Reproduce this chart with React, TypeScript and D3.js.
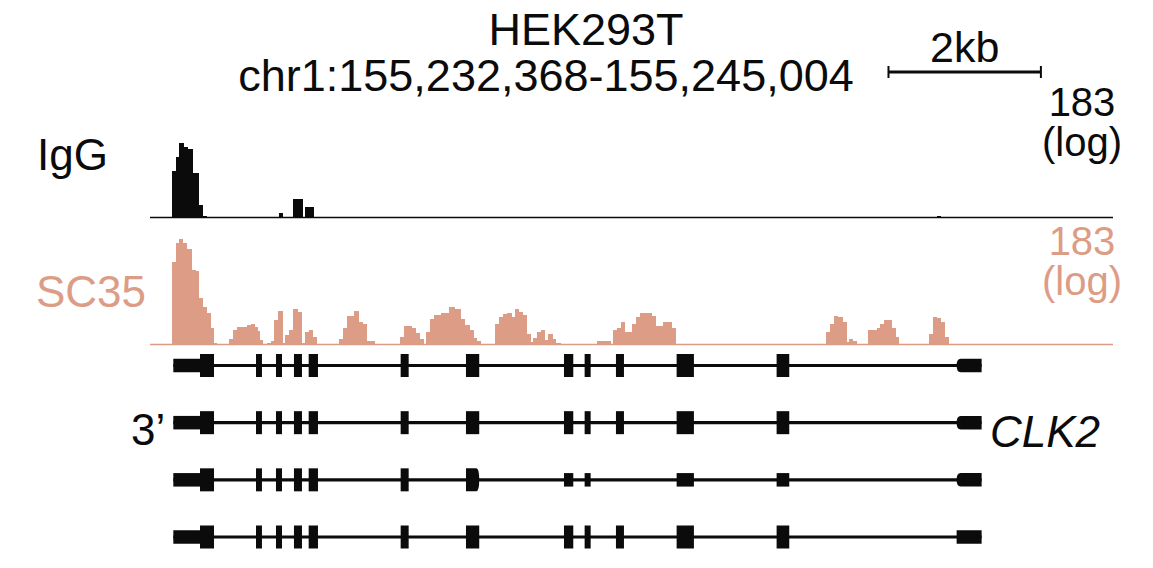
import React from "react";
import * as d3 from "d3";

// ---------------- data ----------------
const REGION_CHR = "chr1";
const REGION_START = 155232368;
const REGION_END = 155245004;
const TITLE = "HEK293T";
const SCALE_BAR_BP = 2000;
const SCALE_BAR_START = 9690; // bp offset from region start
const TRACK_MAX = 183;

// IgG signal: [start offset bp, end offset bp, value]
const igg: [number, number, number][] = [
  [289, 341, 10.6],
  [341, 384, 23],
  [384, 446, 48],
  [446, 499, 40],
  [499, 560, 35],
  [560, 647, 9.5],
  [647, 699, 0.9],
  [699, 752, 0.1],
  [1689, 1749, 0.25],
  [1880, 2003, 1.7],
  [2030, 2152, 0.76],
  [10322, 10374, 0.08],
];

// SC35 signal: [start offset bp, end offset bp, value]
const sc35: [number, number, number][] = [
  [289, 341, 48], [341, 384, 120], [384, 437, 146], [437, 488, 124], [488, 551, 90],
  [551, 604, 33], [604, 647, 31], [647, 699, 8], [699, 752, 4.8], [752, 796, 3.4],
  [796, 840, 1.2], [840, 883, 0.06],
  [1033, 1085, 0.3], [1085, 1138, 1.0], [1138, 1207, 1.3], [1207, 1269, 1.25],
  [1269, 1321, 1.5], [1321, 1374, 1.6], [1374, 1417, 1.3], [1417, 1443, 0.9], [1443, 1486, 0.24],
  [1539, 1584, 0.06], [1584, 1627, 0.2], [1627, 1679, 2.2], [1679, 1749, 3.9], [1749, 1775, 0.07],
  [1775, 1828, 0.57], [1828, 1880, 1.0], [1880, 1942, 4.4], [1942, 1994, 3.7], [1994, 2030, 0.07],
  [2030, 2082, 0.83], [2082, 2143, 1.0], [2143, 2195, 0.45],
  [2476, 2528, 0.3], [2528, 2581, 1.2], [2581, 2676, 2.9], [2676, 2746, 3.9], [2746, 2799, 1.95],
  [2799, 2843, 1.6], [2843, 2948, 0.2],
  [3280, 3332, 0.45], [3332, 3437, 1.4], [3437, 3490, 1.2], [3490, 3542, 0.75], [3542, 3595, 0.3],
  [3621, 3674, 0.8], [3674, 3726, 2.35], [3726, 3822, 3.05], [3822, 3927, 3.5], [3927, 3998, 5.0],
  [3998, 4084, 4.3], [4084, 4137, 2.3], [4137, 4198, 1.5], [4198, 4251, 1.0], [4251, 4294, 0.34],
  [4294, 4339, 0.18],
  [4526, 4579, 1.6], [4579, 4627, 2.7], [4627, 4680, 3.2], [4680, 4746, 3.4], [4746, 4789, 2.6],
  [4789, 4845, 4.4], [4845, 4890, 3.6], [4890, 4942, 3.05], [4942, 4995, 0.62], [4995, 5029, 0.1],
  [5029, 5074, 0.34], [5074, 5126, 0.83], [5126, 5186, 0.96], [5186, 5222, 0.24], [5222, 5283, 0.62],
  [5283, 5327, 0.28], [5327, 5388, 0.09],
  [5869, 6044, 0.2], [6071, 6123, 0.96], [6123, 6176, 1.2], [6176, 6236, 1.9], [6236, 6320, 0.8],
  [6320, 6376, 1.6], [6376, 6429, 2.6], [6429, 6586, 3.4], [6586, 6639, 2.9], [6639, 6726, 1.4],
  [6726, 6845, 1.9], [6845, 6901, 1.2],
  [8869, 8922, 0.8], [8922, 8974, 1.6], [8974, 9031, 2.9], [9031, 9088, 2.6], [9088, 9141, 1.95],
  [9141, 9175, 0.14], [9175, 9227, 0.3], [9227, 9280, 0.18],
  [9424, 9534, 1.0], [9534, 9578, 1.2], [9578, 9630, 1.6], [9630, 9731, 2.2], [9731, 9788, 1.2],
  [9788, 9831, 0.45],
  [10224, 10277, 0.62], [10277, 10330, 2.6], [10330, 10382, 2.5], [10382, 10427, 1.95], [10427, 10487, 0.45],
];

// CLK2 exons (bp offsets from region start)
const exons: [number, number][] = [
  [306, 656],
  [656, 840],
  [1391, 1469],
  [1653, 1732],
  [1889, 1994],
  [2082, 2204],
  [3289, 3394],
  [4146, 4320],
  [5432, 5554],
  [5703, 5782],
  [6114, 6219],
  [6910, 7137],
  [8222, 8388],
  [10584, 10912],
];

// transcripts: list of [exon index, kind] where kind: "c" coding (thick), "u" UTR (thin)
const transcripts: { parts: [number, string][]; roundEnd: boolean; roundIdx?: number }[] = [
  { parts: [[0, "u"], [1, "c"], [2, "c"], [3, "c"], [4, "c"], [5, "c"], [6, "c"], [7, "c"], [8, "c"], [9, "c"], [10, "c"], [11, "c"], [12, "c"], [13, "u"]], roundEnd: true },
  { parts: [[0, "u"], [1, "c"], [2, "c"], [3, "c"], [4, "c"], [5, "c"], [6, "c"], [7, "c"], [8, "c"], [9, "c"], [10, "c"], [11, "c"], [12, "c"], [13, "u"]], roundEnd: true },
  { parts: [[0, "u"], [1, "c"], [2, "c"], [3, "c"], [4, "c"], [5, "c"], [6, "c"], [7, "c"], [8, "u"], [9, "u"], [11, "u"], [12, "u"], [13, "u"]], roundEnd: true, roundIdx: 7 },
  { parts: [[0, "u"], [1, "c"], [2, "c"], [3, "c"], [4, "c"], [5, "c"], [6, "c"], [7, "c"], [8, "c"], [9, "c"], [10, "c"], [11, "c"], [12, "c"], [13, "u"]], roundEnd: false },
];

const GENE_NAME = "CLK2";

// ---------------- styles ----------------
const W = 1153;
const H = 568;
const FONT = "'Liberation Sans', Arial, Helvetica, sans-serif";
const SALMON = "#DC9C86";
const BLACK = "#0b0b0b";

const fmt = d3.format(",");

export default function App() {
  const span = REGION_END - REGION_START;
  const x = d3.scaleLinear().domain([0, span]).range([150, 1113]);

  const iggY = d3.scaleLog().domain([1, TRACK_MAX + 1]).range([217.5, 118]);
  const scY = d3.scaleLog().domain([1, TRACK_MAX + 1]).range([344.5, 234.5]);

  const rowY = d3.scalePoint<number>().domain(transcripts.map((_, i) => i)).range([365.5, 537]);
  const CDS_H = 23;
  const UTR_H = 13.5;

  const sbX0 = x(SCALE_BAR_START);
  const sbX1 = x(SCALE_BAR_START + SCALE_BAR_BP);

  return (
    <svg
      width={W}
      height={H}
      viewBox={`0 0 ${W} ${H}`}
      style={{ position: "absolute", left: 0, top: 0, background: "#fff" }}
      fontFamily={FONT}
    >
      {/* title */}
      <text x={586} y={45} fontSize={45} textAnchor="middle" fill={BLACK}>{TITLE}</text>
      <text x={546} y={91} fontSize={45} textAnchor="middle" fill={BLACK}>
        {`${REGION_CHR}:${fmt(REGION_START)}-${fmt(REGION_END)}`}
      </text>

      {/* scale bar */}
      <text x={(sbX0 + sbX1) / 2} y={62} fontSize={43} textAnchor="middle" fill={BLACK}>
        {`${SCALE_BAR_BP / 1000}kb`}
      </text>
      <line x1={sbX0} x2={sbX1} y1={72} y2={72} stroke={BLACK} strokeWidth={3} />
      <line x1={sbX0} x2={sbX0} y1={66} y2={78} stroke={BLACK} strokeWidth={2} />
      <line x1={sbX1} x2={sbX1} y1={66} y2={78} stroke={BLACK} strokeWidth={2} />

      {/* IgG track */}
      <text x={37} y={170} fontSize={44} fill={BLACK}>IgG</text>
      <text x={1082} y={116} fontSize={40} textAnchor="middle" fill={BLACK}>{TRACK_MAX}</text>
      <text x={1082} y={156} fontSize={40} textAnchor="middle" fill={BLACK}>(log)</text>
      <g shapeRendering="crispEdges">
        {igg.map(([s, e, v], i) => (
          <rect key={`i${i}`} x={x(s)} y={iggY(v + 1)} width={x(e) - x(s)} height={iggY(1) - iggY(v + 1)} fill={BLACK} />
        ))}
      </g>
      <line x1={150} x2={1113} y1={217.5} y2={217.5} stroke={BLACK} strokeWidth={1.6} />

      {/* SC35 track */}
      <text x={36} y={307} fontSize={44} fill={SALMON}>SC35</text>
      <text x={1082} y={255} fontSize={40} textAnchor="middle" fill={SALMON}>{TRACK_MAX}</text>
      <text x={1082} y={295} fontSize={40} textAnchor="middle" fill={SALMON}>(log)</text>
      <g shapeRendering="crispEdges">
        {sc35.map(([s, e, v], i) => (
          <rect key={`s${i}`} x={x(s)} y={scY(v + 1)} width={x(e) - x(s)} height={scY(1) - scY(v + 1)} fill={SALMON} />
        ))}
      </g>
      <line x1={150} x2={1113} y1={344.5} y2={344.5} stroke={SALMON} strokeWidth={1.6} />

      {/* gene models */}
      <text x={131} y={445} fontSize={44} fill={BLACK}>3’</text>
      <text x={990} y={447} fontSize={44} fontStyle="italic" fill={BLACK}>{GENE_NAME}</text>
      {transcripts.map((t, ti) => {
        const cy = rowY(ti) as number;
        const first = exons[t.parts[0][0]];
        const last = exons[t.parts[t.parts.length - 1][0]];
        return (
          <g key={`t${ti}`}>
            <line x1={x(first[0])} x2={x(last[1])} y1={cy} y2={cy} stroke={BLACK} strokeWidth={3.2} />
            {t.parts.map(([ei, kind], pi) => {
              const [s, e] = exons[ei];
              const h = kind === "c" ? CDS_H : UTR_H;
              const x0 = x(s);
              const x1 = x(e);
              const top = cy - h / 2;
              const bot = cy + h / 2;
              const isLast = pi === t.parts.length - 1;
              if (isLast && t.roundEnd) {
                const r = 4;
                const d = `M${x0 + r},${top} L${x1},${top} L${x1},${bot} L${x0 + r},${bot} Q${x0},${bot} ${x0},${cy} Q${x0},${top} ${x0 + r},${top} Z`;
                return <path key={pi} d={d} fill={BLACK} />;
              }
              if (t.roundIdx === ei) {
                const r = 3;
                const d = `M${x0},${top} L${x1 - r},${top} Q${x1},${top} ${x1},${cy} Q${x1},${bot} ${x1 - r},${bot} L${x0},${bot} Z`;
                return <path key={pi} d={d} fill={BLACK} />;
              }
              return <rect key={pi} x={x0} y={top} width={x1 - x0} height={h} fill={BLACK} />;
            })}
          </g>
        );
      })}
    </svg>
  );
}
